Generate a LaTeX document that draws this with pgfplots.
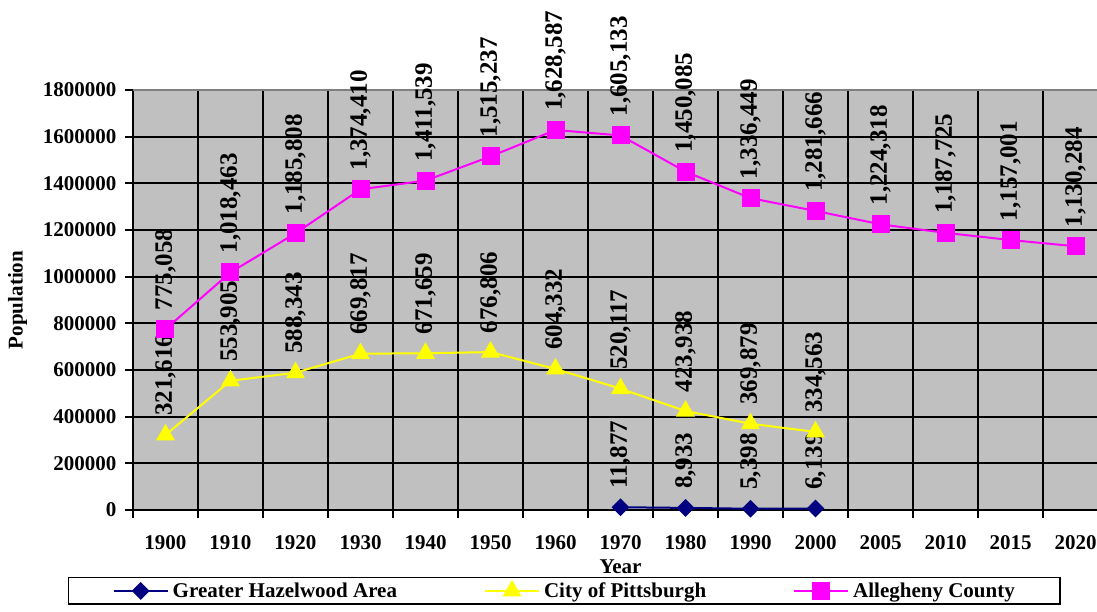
\documentclass[border=0pt]{standalone}
\usepackage{pgfplots}
\pgfplotsset{compat=1.18}
\usepackage{fontspec}
\setmainfont{Liberation Serif}

\definecolor{plotbg}{HTML}{C0C0C0}
\definecolor{hazel}{HTML}{000080}
\definecolor{pitt}{HTML}{FFFF00}
\definecolor{alle}{HTML}{FF00FF}

% x: 0 = 1900, 1 = 1910, ... 10 = 2000, 11 = 2005, ... 14 = 2020
\pgfplotstableread{
x y
7 11877
8 8933
9 5398
10 6139
}\hazelwood
\pgfplotstableread{
x y
0 321616
1 553905
2 588343
3 669817
4 671659
5 676806
6 604332
7 520117
8 423938
9 369879
10 334563
}\pittsburgh
\pgfplotstableread{
x y
0 775058
1 1018463
2 1185808
3 1374410
4 1411539
5 1515237
6 1628587
7 1605133
8 1450085
9 1336449
10 1281666
11 1224318
12 1187725
13 1157001
14 1130284
}\allegheny

\begin{document}
\begin{tikzpicture}
\begin{axis}[
  name=plot,
  scale only axis, width=975pt, height=420pt,
  xmin=-0.5, xmax=14.5, ymin=0, ymax=1800000,
  clip=false,
  axis background/.style={fill=plotbg},
  axis line style={draw=none},
  xtick={0,...,14},
  xticklabels={1900,1910,1920,1930,1940,1950,1960,1970,1980,1990,2000,2005,2010,2015,2020},
  minor xtick={-0.5,0.5,...,14.5},
  ytick={0,200000,...,1800000},
  scaled y ticks=false,
  /pgf/number format/assume math mode=true,
  yticklabel style={/pgf/number format/fixed, /pgf/number format/1000 sep={}, xshift=-5pt},
  xticklabel style={yshift=-14pt},
  ticklabel style={font=\fontsize{21}{24}\selectfont\bfseries},
  tick align=outside,
  xtick pos=bottom, ytick pos=left,
  major tick length=8pt, minor tick length=8pt,
  tick style={black, line width=2.2pt},
  major x tick style={draw=none},
  ymajorgrids, xminorgrids,
  major grid style={black, line width=2.2pt},
  minor grid style={black, line width=2.2pt},
  xlabel={Year}, ylabel={Population},
  label style={font=\fontsize{21}{24}\selectfont\bfseries},
  xlabel style={at={(axis description cs:0.5,-0.1357)}, anchor=center},
  ylabel style={at={(axis description cs:-0.1185,0.5)}, anchor=center},
  nodes near coords={\pgfmathprintnumber[fixed,precision=0,1000 sep={,}]{\pgfplotspointmeta}},
  every node near coord/.append style={font=\fontsize{25}{28}\selectfont\bfseries,
    rotate=90, anchor=west, inner xsep=18pt, inner ysep=0pt, text=black},
  legend image code/.code={\draw[mark repeat=2,mark phase=2,#1] plot coordinates {(0pt,0pt) (27pt,0pt) (54pt,0pt)};},
  legend columns=3,
  legend cell align=left,
  legend style={at={(axis description cs:-0.0667,-0.1595)}, anchor=north west,
    draw=black, line width=1.5pt, fill=white,
    font=\fontsize{21}{24}\selectfont\bfseries,
    inner xsep=44pt, inner ysep=4pt,
    nodes={inner sep=1pt},
    /tikz/every odd column/.append style={column sep=3pt},
    /tikz/every even column/.append style={column sep=86pt}},
]
\addplot[hazel, line width=2pt, mark=square*, mark size=5.3pt,
  mark options={rotate=45, solid, fill=hazel}] table[x=x, y=y] {\hazelwood};
\addlegendentry{Greater Hazelwood Area}
\addplot[pitt, line width=2pt, mark=triangle*, mark size=9pt,
  mark options={solid, fill=pitt}] table[x=x, y=y] {\pittsburgh};
\addlegendentry{City of Pittsburgh}
\addplot[alle, line width=2pt, mark=square*, mark size=8pt,
  mark options={solid, fill=alle}] table[x=x, y=y] {\allegheny};
\addlegendentry{Allegheny County}
\draw[color=gray, line width=2pt] (rel axis cs:0,1) -- (rel axis cs:1,1);
\end{axis}
\pgfresetboundingbox
\path[use as bounding box] ([xshift=-133pt,yshift=-102pt]plot.south west) rectangle ++(1097pt,612pt);
\end{tikzpicture}
\end{document}
